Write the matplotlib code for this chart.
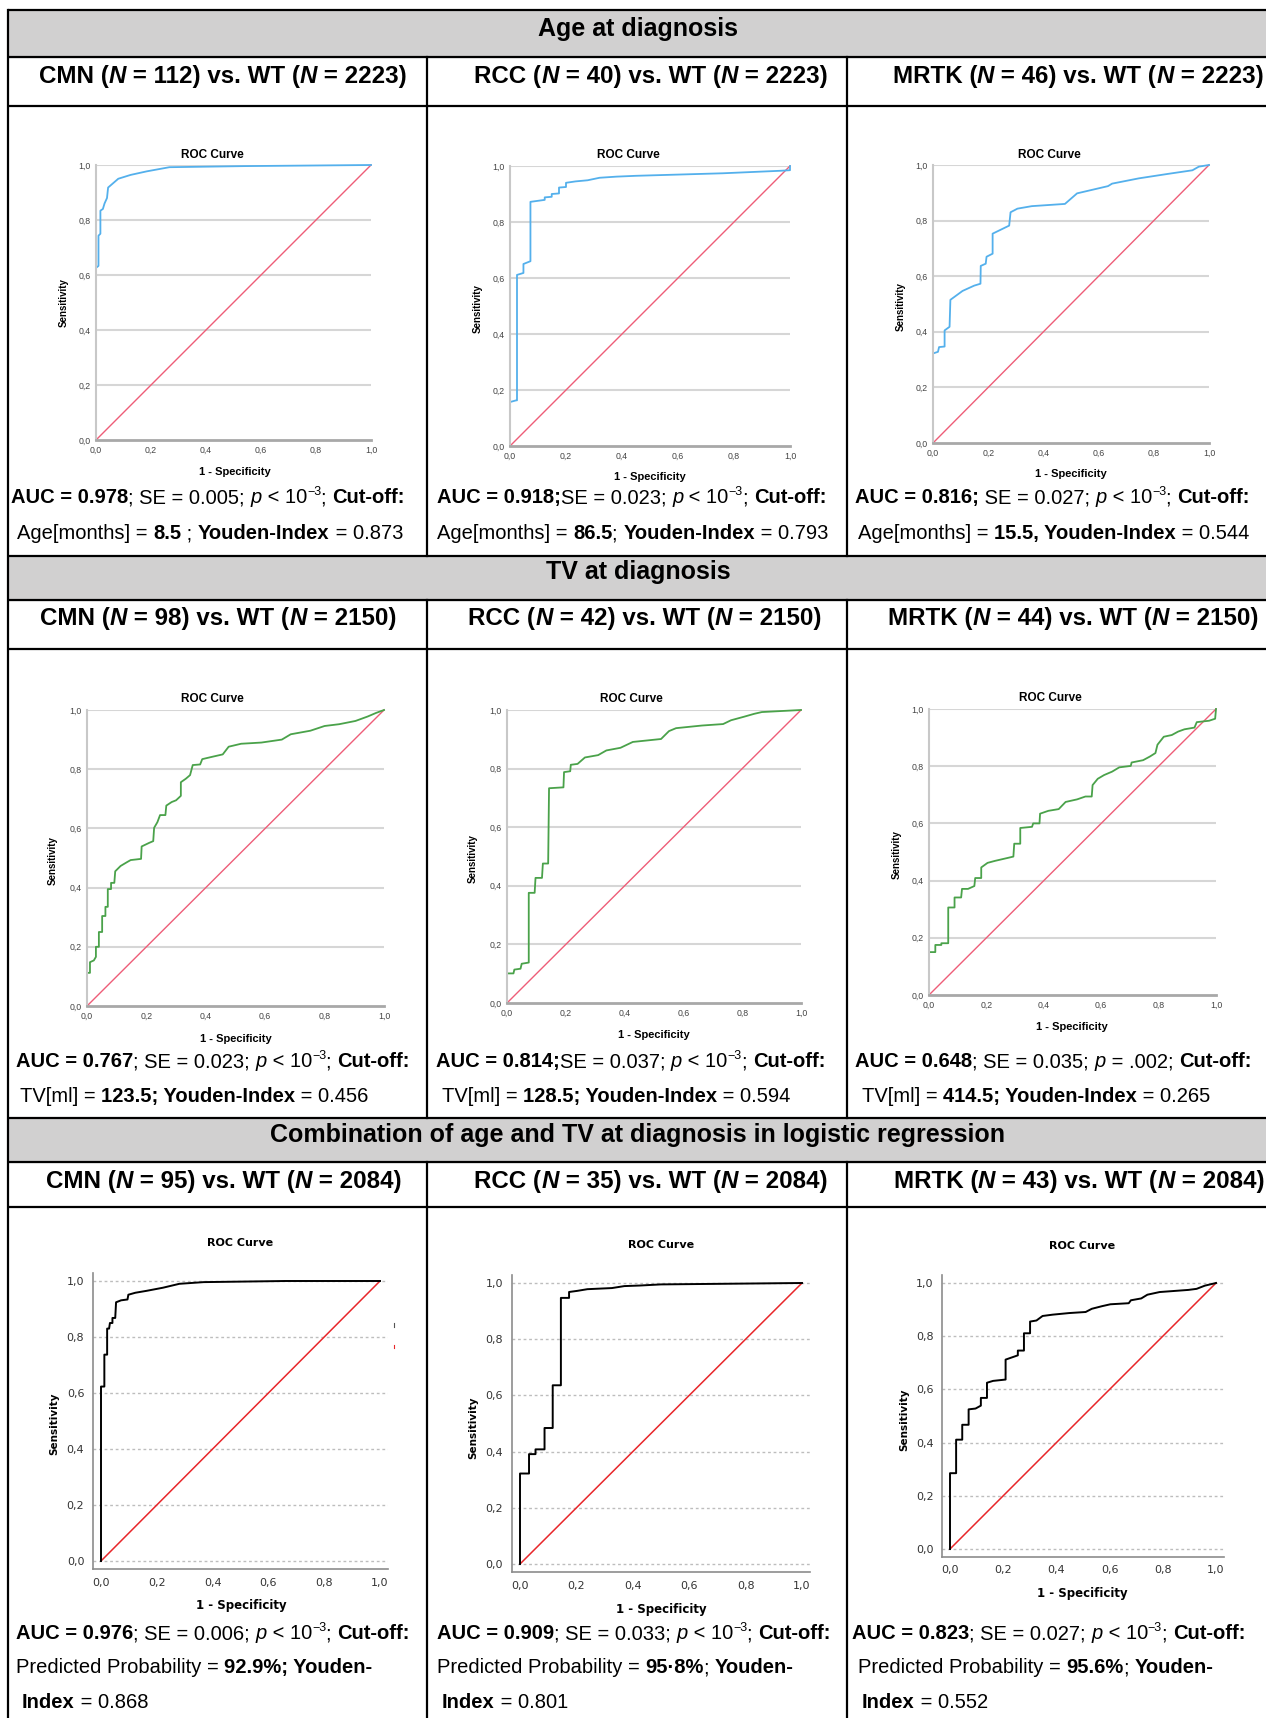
import numpy as np
import matplotlib.pyplot as plt
from matplotlib.patches import Rectangle

plt.rcParams['font.family'] = ['Liberation Sans', 'DejaVu Sans']

# ---- ROC curve vertices (1 - specificity, sensitivity)
age_cmn_fpr = [0, 0, 0.009, 0.009, 0.016, 0.016, 0.025, 0.031, 0.04, 0.044, 0.081, 0.126, 0.185, 0.267, 0.54, 1.0]
age_cmn_tpr = [0, 0.626, 0.633, 0.743, 0.75, 0.834, 0.84, 0.86, 0.88, 0.918, 0.95, 0.964, 0.977, 0.992, 0.996, 1.0]

age_rcc_fpr = [0, 0, 0.022, 0.025, 0.025, 0.048, 0.048, 0.073, 0.073, 0.124, 0.124, 0.149, 0.149, 0.175, 0.175,
               0.2, 0.2, 0.234, 0.277, 0.32, 0.38, 0.45, 0.76, 0.967, 1.0, 1.0]
age_rcc_tpr = [0, 0.157, 0.163, 0.163, 0.611, 0.618, 0.65, 0.66, 0.872, 0.879, 0.888, 0.89, 0.9, 0.902, 0.923,
               0.925, 0.94, 0.945, 0.949, 0.958, 0.962, 0.965, 0.974, 0.983, 0.985, 1.0]

age_mrtk_fpr = [0, 0, 0.018, 0.022, 0.042, 0.042, 0.06, 0.063, 0.107, 0.149, 0.172, 0.173, 0.191, 0.194, 0.216,
                0.216, 0.276, 0.281, 0.306, 0.358, 0.478, 0.522, 0.634, 0.649, 0.746, 0.851, 0.94, 0.963, 1.0]
age_mrtk_tpr = [0, 0.322, 0.328, 0.345, 0.347, 0.405, 0.418, 0.515, 0.547, 0.566, 0.573, 0.637, 0.645, 0.67, 0.681,
                0.753, 0.782, 0.83, 0.843, 0.852, 0.86, 0.898, 0.924, 0.933, 0.952, 0.968, 0.981, 0.994, 1.0]

tv_cmn_fpr = [0, 0, 0.01, 0.01, 0.023, 0.03, 0.03, 0.04, 0.04, 0.051, 0.051, 0.062, 0.062, 0.07, 0.07, 0.081, 0.081,
              0.092, 0.095, 0.113, 0.133, 0.147, 0.182, 0.184, 0.209, 0.223, 0.226, 0.237, 0.246, 0.264, 0.267,
              0.285, 0.3, 0.316, 0.316, 0.333, 0.347, 0.356, 0.381, 0.388, 0.422, 0.457, 0.477, 0.519, 0.587,
              0.656, 0.686, 0.752, 0.8, 0.849, 0.904, 0.945, 0.973, 1.0]
tv_cmn_tpr = [0, 0.112, 0.112, 0.148, 0.154, 0.166, 0.2, 0.2, 0.25, 0.25, 0.304, 0.304, 0.335, 0.335, 0.395, 0.395,
              0.416, 0.416, 0.455, 0.473, 0.485, 0.493, 0.497, 0.539, 0.551, 0.557, 0.602, 0.621, 0.645, 0.645,
              0.677, 0.689, 0.695, 0.71, 0.756, 0.768, 0.78, 0.814, 0.816, 0.834, 0.842, 0.85, 0.876, 0.886, 0.89,
              0.9, 0.918, 0.93, 0.946, 0.952, 0.963, 0.978, 0.99, 1.0]

tv_rcc_fpr = [0, 0, 0.022, 0.025, 0.046, 0.05, 0.074, 0.074, 0.094, 0.097, 0.119, 0.122, 0.14, 0.143, 0.192, 0.194,
              0.215, 0.217, 0.24, 0.265, 0.31, 0.338, 0.386, 0.428, 0.524, 0.551, 0.575, 0.663, 0.735, 0.762,
              0.806, 0.841, 0.867, 1.0]
tv_rcc_tpr = [0, 0.101, 0.101, 0.114, 0.117, 0.134, 0.138, 0.376, 0.376, 0.427, 0.427, 0.476, 0.476, 0.733, 0.736,
              0.788, 0.791, 0.813, 0.816, 0.838, 0.846, 0.862, 0.871, 0.891, 0.901, 0.928, 0.938, 0.947, 0.952,
              0.965, 0.977, 0.987, 0.993, 1.0]

tv_mrtk_fpr = [0, 0, 0.022, 0.022, 0.043, 0.043, 0.067, 0.067, 0.089, 0.089, 0.112, 0.115, 0.136, 0.158, 0.161,
               0.182, 0.182, 0.204, 0.23, 0.273, 0.294, 0.297, 0.318, 0.318, 0.359, 0.363, 0.385, 0.387, 0.416,
               0.452, 0.476, 0.516, 0.545, 0.567, 0.57, 0.588, 0.61, 0.638, 0.663, 0.703, 0.706, 0.746, 0.77,
               0.789, 0.796, 0.818, 0.846, 0.868, 0.89, 0.925, 0.933, 0.976, 0.997, 1.0]
tv_mrtk_tpr = [0, 0.15, 0.15, 0.175, 0.175, 0.181, 0.181, 0.306, 0.306, 0.341, 0.341, 0.371, 0.371, 0.381, 0.409,
               0.409, 0.446, 0.462, 0.469, 0.479, 0.484, 0.529, 0.529, 0.584, 0.588, 0.6, 0.6, 0.634, 0.644,
               0.65, 0.675, 0.684, 0.694, 0.694, 0.734, 0.756, 0.769, 0.781, 0.796, 0.801, 0.813, 0.821, 0.834,
               0.846, 0.875, 0.903, 0.909, 0.921, 0.929, 0.935, 0.954, 0.959, 0.966, 1.0]

comb_cmn_fpr = [0, 0, 0.012, 0.012, 0.022, 0.022, 0.029, 0.032, 0.041, 0.041, 0.051, 0.054, 0.072, 0.095, 0.098,
                0.123, 0.164, 0.222, 0.281, 0.368, 0.66, 1.0]
comb_cmn_tpr = [0, 0.623, 0.623, 0.737, 0.737, 0.83, 0.83, 0.85, 0.85, 0.868, 0.868, 0.924, 0.931, 0.934, 0.951,
                0.958, 0.965, 0.976, 0.99, 0.996, 1.0, 1.0]

comb_rcc_fpr = [0, 0, 0.032, 0.032, 0.055, 0.055, 0.087, 0.087, 0.116, 0.116, 0.145, 0.145, 0.174, 0.174, 0.203,
                0.239, 0.326, 0.37, 0.425, 0.5, 1.0]
comb_rcc_tpr = [0, 0.322, 0.322, 0.391, 0.391, 0.408, 0.408, 0.484, 0.484, 0.636, 0.636, 0.947, 0.947, 0.968, 0.972,
                0.978, 0.982, 0.989, 0.991, 0.995, 1.0]

comb_mrtk_fpr = [0, 0, 0.023, 0.023, 0.046, 0.046, 0.07, 0.07, 0.096, 0.116, 0.116, 0.139, 0.139, 0.162, 0.209,
                 0.209, 0.229, 0.255, 0.255, 0.278, 0.278, 0.301, 0.301, 0.325, 0.348, 0.386, 0.448, 0.51, 0.533,
                 0.572, 0.603, 0.672, 0.68, 0.719, 0.742, 0.788, 0.896, 0.927, 0.958, 1.0]
comb_mrtk_tpr = [0, 0.285, 0.285, 0.411, 0.411, 0.467, 0.467, 0.525, 0.528, 0.539, 0.568, 0.568, 0.625, 0.632, 0.637,
                 0.712, 0.719, 0.728, 0.746, 0.746, 0.811, 0.811, 0.855, 0.859, 0.876, 0.881, 0.887, 0.891, 0.903,
                 0.913, 0.92, 0.924, 0.935, 0.942, 0.956, 0.966, 0.974, 0.978, 0.99, 1.0]

curves = [(age_cmn_fpr, age_cmn_tpr), (age_rcc_fpr, age_rcc_tpr), (age_mrtk_fpr, age_mrtk_tpr),
          (tv_cmn_fpr, tv_cmn_tpr), (tv_rcc_fpr, tv_rcc_tpr), (tv_mrtk_fpr, tv_mrtk_tpr),
          (comb_cmn_fpr, comb_cmn_tpr), (comb_rcc_fpr, comb_rcc_tpr), (comb_mrtk_fpr, comb_mrtk_tpr)]

tick_vals = [0, 0.2, 0.4, 0.6, 0.8, 1.0]
tick_labels = ['0,0', '0,2', '0,4', '0,6', '0,8', '1,0']

section_titles = ['Age at diagnosis', 'TV at diagnosis',
                  'Combination of age and TV at diagnosis in logistic regression']
groups = [['CMN', '112', '2223'], ['RCC', '40', '2223'], ['MRTK', '46', '2223'],
          ['CMN', '98', '2150'], ['RCC', '42', '2150'], ['MRTK', '44', '2150'],
          ['CMN', '95', '2084'], ['RCC', '35', '2084'], ['MRTK', '43', '2084']]

# rich text lines below each chart: (text, style) runs
# styles: n normal, b bold, i italic, s superscript
def p3():
    return [('p', 'i'), (' < 10', 'n'), ('\u22123', 's'), ('; ', 'n'), ('Cut-off:', 'b')]

stats_text = [
    [[('AUC = 0.978', 'b'), ('; SE = 0.005; ', 'n')] + p3(),
     [('Age[months] = ', 'n'), ('8.5', 'b'), (' ; ', 'n'), ('Youden-Index', 'b'), (' = 0.873', 'n')]],
    [[('AUC = 0.918;', 'b'), ('SE = 0.023; ', 'n')] + p3(),
     [('Age[months] = ', 'n'), ('86.5', 'b'), ('; ', 'n'), ('Youden-Index', 'b'), (' = 0.793', 'n')]],
    [[('AUC = 0.816;', 'b'), (' SE = 0.027; ', 'n')] + p3(),
     [('Age[months] = ', 'n'), ('15.5, Youden-Index', 'b'), (' = 0.544', 'n')]],
    [[('AUC = 0.767', 'b'), ('; SE = 0.023; ', 'n')] + p3(),
     [('TV[ml] = ', 'n'), ('123.5; Youden-Index', 'b'), (' = 0.456', 'n')]],
    [[('AUC = 0.814;', 'b'), ('SE = 0.037; ', 'n')] + p3(),
     [('TV[ml] = ', 'n'), ('128.5; Youden-Index', 'b'), (' = 0.594', 'n')]],
    [[('AUC = 0.648', 'b'), ('; SE = 0.035; ', 'n'), ('p', 'i'), (' = .002; ', 'n'), ('Cut-off:', 'b')],
     [('TV[ml] = ', 'n'), ('414.5; Youden-Index', 'b'), (' = 0.265', 'n')]],
    [[('AUC = 0.976', 'b'), ('; SE = 0.006; ', 'n')] + p3(),
     [('Predicted Probability = ', 'n'), ('92.9%; Youden-', 'b')],
     [('Index', 'b'), (' = 0.868', 'n')]],
    [[('AUC = 0.909', 'b'), ('; SE = 0.033; ', 'n')] + p3(),
     [('Predicted Probability = ', 'n'), ('95\u00b78%', 'b'), ('; ', 'n'), ('Youden-', 'b')],
     [('Index', 'b'), (' = 0.801', 'n')]],
    [[('AUC = 0.823', 'b'), ('; SE = 0.027; ', 'n')] + p3(),
     [('Predicted Probability = ', 'n'), ('95.6%', 'b'), ('; ', 'n'), ('Youden-', 'b')],
     [('Index', 'b'), (' = 0.552', 'n')]],
]

# ---- layout (pixels)
W, H = 1266, 1718
LEFT = 8
hlines = [10, 57, 106, 556, 600, 649, 1118, 1162, 1207]
gray_rows = [(10, 57), (556, 600), (1118, 1162)]
vrows = [(57, 556), (600, 1118), (1162, H)]
col_x = [427, 847]
sec_y = [27, 570, 1133]
sub_x = [[223, 651, 1078], [218, 645, 1073], [224, 651, 1079]]
sub_y = [74, 616, 1179]

# data-box of each chart: x at 0, x at 1, y at 0, y at 1
boxes = [(96, 371, 440, 165), (510, 790, 446, 166), (933, 1209, 443, 165),
         (87, 384, 1006, 710), (507, 801, 1003, 710), (929, 1216, 995, 709),
         (101, 380, 1561, 1281), (520, 802, 1564, 1283), (950, 1216, 1549, 1283)]
title_pos = [(212, 155), (628, 155), (1049, 155), (212, 699), (631, 699), (1050, 698),
             (240, 1243), (661, 1245), (1082, 1246)]
xlab_pos = [(235, 472), (650, 477), (1071, 474), (236, 1039), (654, 1035), (1072, 1027),
            (241, 1606), (661, 1610), (1082, 1593)]
ylab_pos = [(64, 303), (478, 309), (901, 307), (53, 861), (473, 859), (897, 855),
            (54, 1424), (473, 1428), (904, 1420)]
stat_y = [[496, 532], [1060, 1095], [1632, 1666, 1701]]
stat_x = [[11, 17], [437, 437], [855, 858],
          [16, 20], [436, 442], [855, 862],
          [16, 16, 22], [437, 437, 442], [852, 858, 862]]

fig = plt.figure(figsize=(W / 100, H / 100), dpi=100)
bg = fig.add_axes([0, 0, 1, 1])
bg.set_xlim(0, W)
bg.set_ylim(H, 0)
bg.axis('off')
rend = fig.canvas.get_renderer()

for y0, y1 in gray_rows:
    bg.add_patch(Rectangle((LEFT, y0), W - LEFT, y1 - y0, color='#d1d0d0', zorder=0))
for y in hlines:
    bg.plot([LEFT, W], [y, y], color='black', lw=1.6, solid_capstyle='butt')
bg.plot([LEFT, LEFT], [10, H], color='black', lw=1.6)
for y0, y1 in vrows:
    for x in col_x:
        bg.plot([x, x], [y0, y1], color='black', lw=1.6)
# two small leftover legend marks beside the first combined chart
bg.plot([394, 394], [1323, 1327], color='#555555', lw=0.8)
bg.plot([394, 394], [1345, 1348], color='#e8262a', lw=0.8)

STY = {'n': {}, 'b': dict(fontweight='bold'), 'i': dict(fontstyle='italic'),
       'bi': dict(fontweight='bold', fontstyle='italic'), 's': {}}


def advance(s, size, st):
    a = bg.text(0, 0, '|' + s + '|', fontsize=size, **st)
    b = bg.text(0, 0, '||', fontsize=size, **st)
    w = a.get_window_extent(rend).width - b.get_window_extent(rend).width
    a.remove()
    b.remove()
    return w


def runs(x, y, parts, size, center=False):
    em = size * 100 / 72
    sizes = [size * 0.62 if c == 's' else size for s, c in parts]
    widths = [advance(s, sz, STY[c]) for (s, c), sz in zip(parts, sizes)]
    if center:
        x = x - sum(widths) / 2
    base = y + 0.36 * em
    for (s, c), sz, w in zip(parts, sizes, widths):
        yy = base - 0.42 * em if c == 's' else base
        bg.text(x, yy, s, fontsize=sz, va='baseline', ha='left', **STY[c])
        x += w


for i, t in enumerate(section_titles):
    runs(638, sec_y[i], [(t, 'b')], 18, center=True)

for k, (g, n1, n2) in enumerate(groups):
    r, c = divmod(k, 3)
    parts = [(g + ' (', 'b'), ('N', 'bi'), (' = ' + n1 + ') vs. WT (', 'b'), ('N', 'bi'), (' = ' + n2 + ')', 'b')]
    runs(sub_x[r][c], sub_y[r], parts, 17.4, center=True)

for k, lines in enumerate(stats_text):
    r = k // 3
    for j, parts in enumerate(lines):
        runs(stat_x[k][j], stat_y[r][j], parts, 14.5)

# ---- the nine ROC charts
for k, (fpr, tpr) in enumerate(curves):
    x0, x1, y0, y1 = boxes[k]
    modern = k >= 6
    m = 0.03 if modern else 0.0
    wpx, hpx = x1 - x0, y0 - y1
    ax = fig.add_axes([(x0 - m * wpx) / W, 1 - (y0 + m * hpx) / H,
                       wpx * (1 + 2 * m) / W, hpx * (1 + 2 * m) / H])
    ax.set_xlim(-m, 1 + m)
    ax.set_ylim(-m, 1 + m)
    ax.set_xticks(tick_vals)
    ax.set_yticks(tick_vals)
    ax.set_xticklabels(tick_labels)
    ax.set_yticklabels(tick_labels)
    ax.spines['top'].set_visible(False)
    ax.spines['right'].set_visible(False)
    if modern:
        for v in tick_vals:
            ax.axhline(v, color='#bdbdbd', lw=1, ls=(0, (2, 2)), zorder=0)
        ax.plot([0, 1], [0, 1], color='#e8262a', lw=1.1)
        ax.plot(fpr, tpr, color='black', lw=1.4)
        for s in ['left', 'bottom']:
            ax.spines[s].set_color('#8c8c8c')
            ax.spines[s].set_linewidth(1.2)
        ax.tick_params(length=0, labelsize=8, pad=6, colors='#333333')
        for lab in ax.get_xticklabels() + ax.get_yticklabels():
            lab.set_family('DejaVu Sans')
        lfont = dict(family='DejaVu Sans', fontweight='bold')
        tsize, xsize, ysize = 8, 8.5, 7.5
    else:
        for v in tick_vals[1:]:
            ax.axhline(v, color='#d6d6d6', lw=1.5, zorder=0)
        col = '#54b0ec' if k < 3 else '#4aa24a'
        ax.plot([0, 1], [0, 1], color='#ee5d78', lw=1, clip_on=False)
        ax.plot(fpr, tpr, color=col, lw=1.3, clip_on=False)
        ax.spines['left'].set_color('#c8c8c8')
        ax.spines['left'].set_linewidth(1.5)
        ax.spines['bottom'].set_color('#a8a8a8')
        ax.spines['bottom'].set_linewidth(2)
        ax.tick_params(length=0, labelsize=6.3, pad=4, colors='#444444')
        lfont = dict(fontweight='bold')
        tsize, xsize, ysize = 8.5, 8, 7
    tx, ty = title_pos[k]
    bg.text(tx, ty, 'ROC Curve', fontsize=tsize, ha='center', va='center', **lfont)
    tx, ty = xlab_pos[k]
    bg.text(tx, ty, '1 - Specificity', fontsize=xsize, ha='center', va='center', **lfont)
    tx, ty = ylab_pos[k]
    bg.text(tx, ty, 'Sensitivity', fontsize=ysize, ha='center', va='center', rotation=90, **lfont)

fig.savefig('out.png', dpi=100)
